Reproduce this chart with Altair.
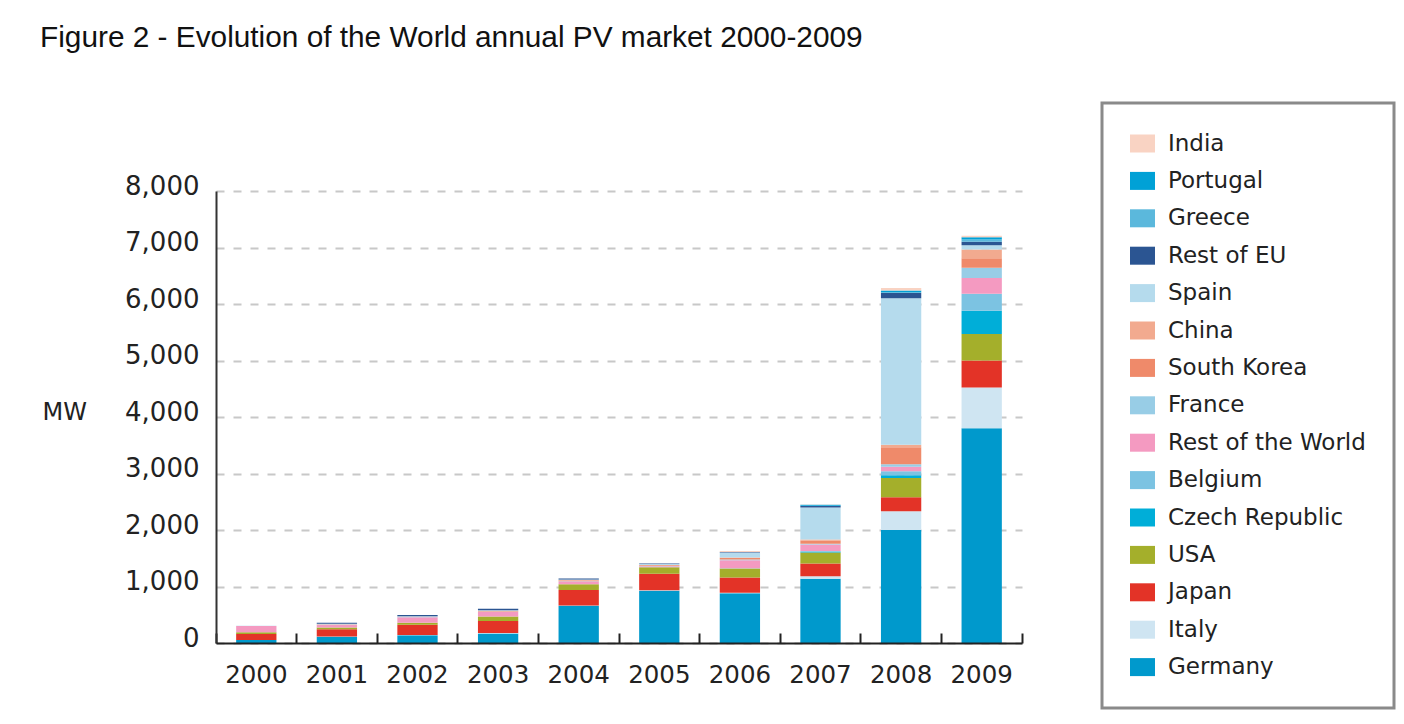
import altair as alt
import pandas as pd

years = ["2000", "2001", "2002", "2003", "2004", "2005", "2006", "2007", "2008", "2009"]

# stacked bottom -> top
countries = ["Germany", "Italy", "Japan", "USA", "Czech Republic", "Belgium",
             "Rest of the World", "France", "South Korea", "China", "Spain",
             "Rest of EU", "Greece", "Portugal", "India"]

germany = [55, 110, 135, 170, 660, 925, 880, 1135, 2000, 3800]
italy = [0, 5, 5, 5, 5, 10, 10, 45, 330, 720]
japan = [105, 130, 185, 215, 275, 290, 270, 225, 250, 480]
usa = [30, 30, 35, 80, 100, 115, 160, 195, 340, 470]
czech = [0, 0, 0, 0, 0, 0, 0, 15, 50, 410]
belgium = [0, 0, 0, 0, 0, 0, 5, 15, 70, 300]
rest_world = [110, 45, 95, 80, 50, 20, 140, 115, 80, 280]
france = [0, 5, 5, 5, 5, 5, 15, 10, 45, 180]
south_korea = [0, 0, 0, 5, 10, 10, 25, 60, 300, 170]
china = [0, 5, 5, 10, 10, 5, 10, 15, 45, 155]
spain = [5, 10, 10, 10, 10, 20, 85, 570, 2590, 75]
rest_eu = [0, 20, 20, 25, 15, 5, 10, 25, 95, 60]
greece = [0, 0, 0, 0, 0, 0, 0, 5, 15, 40]
portugal = [0, 0, 0, 0, 0, 0, 0, 15, 30, 40]
india = [0, 0, 0, 0, 0, 0, 20, 5, 45, 30]

values = [germany, italy, japan, usa, czech, belgium, rest_world, france,
          south_korea, china, spain, rest_eu, greece, portugal, india]

colors = ["#0099cc", "#cfe5f2", "#e33327", "#a4af2b", "#00aed8", "#7cc3e2",
          "#f49ac1", "#98cde6", "#ef8a6a", "#f2aa8f", "#b5dbed", "#2b5592",
          "#5bb8dc", "#00a1d6", "#f9d3c3"]

y_ticks = [0, 1000, 2000, 3000, 4000, 5000, 6000, 7000, 8000]

rows = []
for i, (name, vals) in enumerate(zip(countries, values)):
    for yr, v in zip(years, vals):
        rows.append({"Year": yr, "Country": name, "MW": v, "idx": i})
df = pd.DataFrame(rows)

legend_order = countries[::-1]
legend_colors = colors[::-1]

W, H = 806, 452
FONT = "DejaVu Sans"

xscale = alt.Scale(paddingInner=0, paddingOuter=0)

bars = alt.Chart(df).mark_bar(width=alt.RelativeBandSize(0.5)).encode(
    x=alt.X("Year:N", scale=xscale, sort=years,
            axis=alt.Axis(title=None, labelAngle=0, ticks=False, domain=True,
                          domainColor="#222222", domainWidth=2, labelFont=FONT,
                          labelFontSize=24.5, labelColor="#222222", labelPadding=20,
                          grid=False, zindex=1)),
    y=alt.Y("MW:Q", stack="zero",
            scale=alt.Scale(domain=[0, 8000], nice=False),
            axis=alt.Axis(values=y_ticks, format=",d", title="MW", titleAngle=0,
                          titleAlign="left", titleBaseline="middle", titleX=-174,
                          titleY=221, titleFont=FONT, titleFontSize=24,
                          titleFontWeight="normal", titleColor="#222222",
                          labelFont=FONT, labelFontSize=26, labelColor="#222222",
                          labelPadding=17, labelOffset=-5, ticks=False,
                          domain=True, domainColor="#333333", domainWidth=2,
                          grid=True, gridColor="#c8c8c8", gridWidth=2,
                          gridDash=[8, 9])),
    color=alt.Color("Country:N",
                    scale=alt.Scale(domain=legend_order, range=legend_colors),
                    legend=alt.Legend(title=None, orient="none", legendX=886,
                                      legendY=-88,
                                      symbolType="M-1,-0.72H1V0.72H-1Z",
                                      symbolSize=625, symbolStrokeWidth=0,
                                      labelFont=FONT, labelFontSize=23,
                                      labelColor="#222222", rowPadding=12.4,
                                      padding=28, labelOffset=13, labelLimit=400,
                                      strokeColor="#8a8a8a")),
    order=alt.Order("idx:Q", sort="ascending"),
)

ticks_layer = alt.Chart(df).mark_bar(opacity=0).encode(
    x=alt.X("Year:N", scale=xscale, sort=years,
            axis=alt.Axis(orient="top", offset=-H, labels=False, domain=False,
                          ticks=True, tickSize=10, tickColor="#222222",
                          tickWidth=2, bandPosition=0, grid=False, title=None)),
)

end_tick = alt.Chart(df).mark_bar(opacity=0).encode(
    x=alt.X("Year:N", scale=xscale, sort=years,
            axis=alt.Axis(orient="top", offset=-H, labels=False, domain=False,
                          ticks=True, tickSize=10, tickColor="#222222",
                          tickWidth=2, bandPosition=1, values=["2009"],
                          grid=False, title=None)),
)

chart = alt.layer(bars, ticks_layer, end_tick).resolve_axis(
    x="independent"
).properties(
    width=W, height=H,
    autosize=alt.AutoSizeParams(type="none"),
    padding={"left": 208, "top": 183, "right": 374, "bottom": 73},
    background="white",
    title=alt.TitleParams("Figure 2 - Evolution of the World annual PV market 2000-2009",
                          anchor="start", frame="group", dx=-176, dy=-45,
                          font="Liberation Sans", fontSize=29.8,
                          fontWeight="normal", color="#111111"),
).configure_view(stroke="transparent").configure_legend(strokeWidth=3)

chart.save("out.html", embed_options={"renderer": "svg", "actions": False})
